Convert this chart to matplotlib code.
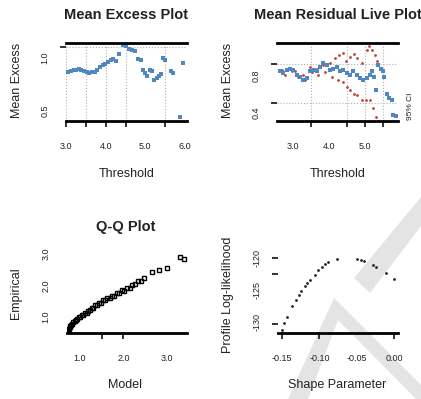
import matplotlib
matplotlib.use("Agg")
import matplotlib.pyplot as plt
from matplotlib.patches import Polygon

plt.rcParams['font.family'] = ['Liberation Sans', 'DejaVu Sans']

# --- Mean Excess Plot ---
me_thresh = [3.06, 3.12, 3.19, 3.25, 3.32, 3.39, 3.45, 3.52, 3.59, 3.66, 3.72, 3.79,
             3.86, 3.92, 3.99, 4.06, 4.13, 4.19, 4.26, 4.33, 4.44, 4.51, 4.58, 4.66,
             4.74, 4.82, 4.88, 4.93, 4.99, 5.05, 5.12, 5.17, 5.22, 5.28, 5.34, 5.39,
             5.44, 5.49, 5.64, 5.69, 5.87, 5.94]
me_excess = [0.87, 0.88, 0.89, 0.89, 0.90, 0.89, 0.88, 0.87, 0.86, 0.87, 0.87, 0.89,
             0.92, 0.93, 0.94, 0.96, 0.98, 0.99, 0.97, 1.04, 1.12, 1.11, 1.09, 1.08,
             1.07, 0.99, 0.98, 0.89, 0.86, 0.83, 0.89, 0.88, 0.79, 0.81, 0.83, 0.85,
             1.00, 0.98, 0.88, 0.86, 0.44, 0.95]

# --- Mean Residual Live Plot ---
mrl_thresh = [2.64, 2.73, 2.82, 2.92, 3.01, 3.10, 3.19, 3.29, 3.38, 3.47, 3.57, 3.66,
              3.75, 3.84, 3.94, 4.03, 4.12, 4.21, 4.31, 4.40, 4.49, 4.58, 4.68, 4.77,
              4.86, 4.95, 5.05, 5.14, 5.19, 5.25, 5.30, 5.37, 5.44, 5.49, 5.54, 5.60,
              5.68, 5.74, 5.79, 5.85]
mrl_mean = [0.85, 0.83, 0.87, 0.88, 0.87, 0.81, 0.79, 0.76, 0.78, 0.85, 0.87, 0.85,
            0.90, 0.94, 0.92, 0.87, 0.88, 0.90, 0.85, 0.87, 0.83, 0.81, 0.85, 0.81,
            0.78, 0.76, 0.78, 0.81, 0.85, 0.79, 0.65, 0.92, 0.88, 0.85, 0.79, 0.61,
            0.56, 0.54, 0.38, 0.37]
upper_thresh = [2.69, 2.87, 3.06, 3.29, 3.47, 3.66, 3.84, 4.03, 4.17, 4.29, 4.38, 4.47,
                4.58, 4.69, 4.79, 4.91, 5.05, 5.12, 5.19, 5.27, 5.32]
upper_ci = [0.87, 0.88, 0.85, 0.81, 0.90, 0.88, 0.92, 0.94, 0.99, 1.03, 1.05, 0.96,
            1.01, 1.04, 0.99, 0.94, 1.08, 1.12, 1.08, 1.03, 0.96]
lower_thresh = [2.78, 2.96, 3.15, 3.33, 3.52, 3.70, 3.89, 4.07, 4.26, 4.38, 4.49, 4.58,
                4.69, 4.77, 4.91, 5.03, 5.14, 5.23, 5.31]
lower_ci = [0.81, 0.85, 0.79, 0.76, 0.84, 0.81, 0.84, 0.79, 0.76, 0.74, 0.68, 0.65,
            0.61, 0.60, 0.54, 0.54, 0.54, 0.45, 0.36]

# --- Q-Q Plot ---
qq_model = [0.72, 0.73, 0.75, 0.76, 0.78, 0.80, 0.82, 0.85, 0.88, 0.91, 0.94, 0.97,
            1.00, 1.04, 1.07, 1.11, 1.15, 1.19, 1.23, 1.27, 1.31, 1.35, 1.39, 1.43,
            1.48, 1.53, 1.58, 1.63, 1.68, 1.73, 1.78, 1.84, 1.90, 1.96, 2.02, 2.08,
            2.14, 2.20, 2.27, 2.34, 2.41, 2.48, 2.66, 2.82, 3.00, 3.30, 3.39]
qq_emp = [0.52, 0.58, 0.62, 0.68, 0.70, 0.76, 0.78, 0.84, 0.86, 0.92, 0.93, 0.99,
          1.00, 1.06, 1.06, 1.12, 1.12, 1.19, 1.21, 1.29, 1.29, 1.37, 1.37, 1.45,
          1.45, 1.53, 1.53, 1.60, 1.59, 1.67, 1.67, 1.76, 1.76, 1.85, 1.84, 1.92,
          1.93, 2.02, 2.04, 2.13, 2.15, 2.25, 2.43, 2.49, 2.56, 2.90, 2.84]

# --- Profile log-likelihood ---
shape = [-0.150, -0.147, -0.143, -0.136, -0.131, -0.127, -0.124, -0.119, -0.116,
         -0.113, -0.106, -0.102, -0.097, -0.093, -0.088, -0.076, -0.050, -0.045,
         -0.041, -0.029, -0.025, -0.011, -0.001]
prof_ll = [-131.2, -130.1, -129.2, -127.5, -126.5, -125.8, -125.1, -124.4, -123.9,
           -123.5, -122.7, -121.9, -121.4, -121.0, -120.7, -120.2, -120.2, -120.3,
           -120.5, -121.1, -121.4, -122.4, -123.3]

W, H = 421, 399
fig = plt.figure(figsize=(W / 100, H / 100), dpi=100)
txt = '#222222'
lab_size = 9


def box(l, r, t, b):
    return [l / W, 1 - b / H, (r - l) / W, (b - t) / H]


def ftext(x, y, s, **kw):
    fig.text(x / W, 1 - y / H, s, color=txt, ha='center', va='center', **kw)


def style(ax, xlim, ylim, xlab, xlabels, xmarks, ylab, ylabels, ymarks, top=True, grid=True):
    ax.set_facecolor('none')
    ax.set_xlim(*xlim)
    ax.set_ylim(*ylim)
    for side in ['left', 'right']:
        ax.spines[side].set_visible(False)
    ax.spines['top'].set_visible(top)
    ax.spines['top'].set_linewidth(2)
    ax.spines['bottom'].set_linewidth(2)
    ax.xaxis.remove_overlapping_locs = False
    ax.yaxis.remove_overlapping_locs = False
    ax.set_xticks(xlab, xlabels)
    ax.set_xticks(xmarks, minor=True)
    ax.set_yticks(ylab, ylabels)
    ax.set_yticks(ymarks, minor=True)
    ax.tick_params(which='major', length=0, labelsize=6.5, labelcolor=txt)
    ax.tick_params(axis='x', which='major', pad=15)
    ax.tick_params(axis='y', which='major', pad=12, labelrotation=90)
    ax.tick_params(which='minor', length=4, width=1.3, direction='out', color='#222222')
    for lab in ax.get_yticklabels():
        lab.set_va('center')
    if grid:
        ax.grid(which='minor', linestyle=':', color='#b0b0b0', lw=0.8)
        ax.set_axisbelow(True)


# watermark
wm = '#e4e4e4'
for pts in [[(288, 399), (334, 298), (421, 385), (421, 404), (338, 320), (308, 399)],
            [(354, 278), (421, 197), (421, 226), (370, 293)]]:
    fig.add_artist(Polygon([(x / W, 1 - y / H) for x, y in pts], closed=True,
                           transform=fig.transFigure, color=wm, zorder=-1, lw=0))

# panel 1
ax1 = fig.add_axes(box(66, 187, 43, 121))
ax1.plot(me_thresh, me_excess, 's', ms=2.7, color='#4f88c0', mew=0)
style(ax1, (3.0, 6.048), (0.406, 1.142),
      [3, 4, 5, 6], ['3.0', '4.0', '5.0', '6.0'], [3.0, 3.5, 4.0, 4.5, 5.5],
      [0.5, 1.0], ['0.5', '1.0'], [1.104])
ftext(126, 15, 'Mean Excess Plot', fontsize=10.5, fontweight='bold')
ftext(127, 174, 'Threshold', fontsize=lab_size)
ftext(17, 80, 'Mean Excess', fontsize=lab_size, rotation=90)

# panel 2
ax2 = fig.add_axes(box(277, 398, 43, 121))
ax2.plot(upper_thresh, upper_ci, 'o', ms=2, color='#c0403a', mew=0)
ax2.plot(lower_thresh, lower_ci, 'o', ms=2, color='#c0403a', mew=0)
ax2.plot(mrl_thresh, mrl_mean, 's', ms=2.7, color='#4f88c0', mew=0)
style(ax2, (2.556, 5.917), (0.314, 1.157),
      [3, 4, 5], ['3.0', '4.0', '5.0'], [3.5, 4.5, 5.0, 5.5],
      [0.4, 0.8], ['0.4', '0.8'], [0.51, 0.93])
ftext(338, 15, 'Mean Residual Live Plot', fontsize=10.5, fontweight='bold')
ftext(338, 174, 'Threshold', fontsize=lab_size)
ftext(228, 80, 'Mean Excess', fontsize=lab_size, rotation=90)
ftext(411, 106, '95% CI', fontsize=6, rotation=90)

# panel 3
ax3 = fig.add_axes(box(67, 187, 245, 333))
ax3.plot(qq_model, qq_emp, 's', ms=2.6, mfc='none', mec='black', mew=1.0)
style(ax3, (0.701, 3.46), (0.492, 3.286),
      [1, 2, 3], ['1.0', '2.0', '3.0'], [1.5, 2.0],
      [1, 2, 3], ['1.0', '2.0', '3.0'], [], top=False, grid=False)
ftext(126, 227, 'Q-Q Plot', fontsize=10.5, fontweight='bold')
ftext(125, 385, 'Model', fontsize=lab_size)
ftext(16, 293, 'Empirical', fontsize=lab_size, rotation=90)

# panel 4
ax4 = fig.add_axes(box(278, 398, 245, 333))
ax4.plot(shape, prof_ll, 'o', ms=2, color='#222222', mew=0)
style(ax4, (-0.1553, 0.0047), (-131.72, -117.97),
      [-0.15, -0.10, -0.05, 0.0], ['-0.15', '-0.10', '-0.05', '0.00'], [-0.15, -0.10, 0.0],
      [-130, -125, -120], ['-130', '-125', '-120'], [-130.3, -122.5, -120], top=False, grid=False)
ftext(337, 385, 'Shape Parameter', fontsize=lab_size)
ftext(228, 295, 'Profile Log-likelihood', fontsize=lab_size, rotation=90)

fig.savefig('out.png', dpi=100)
